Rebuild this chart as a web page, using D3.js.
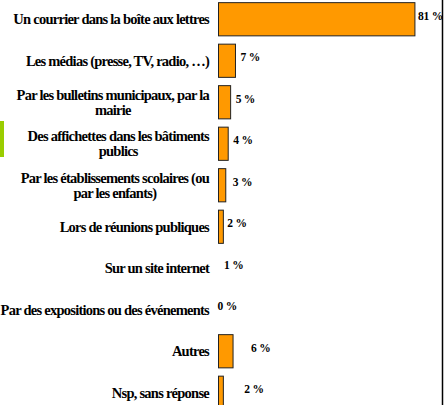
<!DOCTYPE html>
<html>
<head>
<meta charset="utf-8">
<script src="https://cdn.jsdelivr.net/npm/d3@7"></script>
<style>
  body { margin: 0; background: #fff; }
  svg { display: block; }
</style>
</head>
<body>
<svg id="chart" width="444" height="405"></svg>
<script>
// categories, one array of lines per row (wrapped as in the source)
var categories = [
  ["Un courrier dans la boîte aux lettres"],
  ["Les médias (presse, TV, radio, …)"],
  ["Par les bulletins municipaux, par la", "mairie"],
  ["Des affichettes dans les bâtiments", "publics"],
  ["Par les établissements scolaires (ou", "par les enfants)"],
  ["Lors de réunions publiques"],
  ["Sur un site internet"],
  ["Par des expositions ou des événements"],
  ["Autres"],
  ["Nsp, sans réponse"]
];
var values = [81, 7, 5, 4, 3, 2, 1, 0, 6, 2];
var valueLabels = ["81 %", "7 %", "5 %", "4 %", "3 %", "2 %", "1 %", "0 %", "6 %", "2 %"];

// layout only: how far right of the bar end each value label sits
var labelNudge = [3, 5, 5, 5, 7, 4, 3, -1, 18, 21];

var FONT = "'Liberation Serif', 'Times New Roman', Times, 'DejaVu Serif', serif";
var svg = d3.select("#chart");
var W = 444, H = 405;

var ids = d3.range(categories.length);
var y = d3.scaleBand().domain(ids).range([-2, 413]).paddingInner(0.2).paddingOuter(0.1);
var x = d3.scaleLinear().domain([0, 100]).range([218.5, 461]);

// green marker on the left edge
svg.append("rect").attr("x", 0).attr("y", 121).attr("width", 4).attr("height", 36).attr("fill", "#9acd00");

// right frame line
svg.append("line").attr("x1", W - 1.5).attr("x2", W - 1.5).attr("y1", 0).attr("y2", H)
    .attr("stroke", "#000").attr("stroke-width", 1.5);

// bars (the source draws no bar for the 1 % and 0 % rows)
svg.selectAll("rect.bar").data(ids.filter(function(i){ return values[i] > 1; }))
  .enter().append("rect").attr("class", "bar")
  .attr("x", x(0))
  .attr("y", function(i){ return y(i) + 0.5; })
  .attr("width", function(i){ return x(values[i]) - x(0); })
  .attr("height", y.bandwidth())
  .attr("fill", "#ff9900")
  .attr("stroke", "#222")
  .attr("stroke-width", 1);

// value labels
svg.selectAll("text.val").data(ids).enter().append("text").attr("class", "val")
  .attr("x", function(i){ return x(values[i]) + labelNudge[i]; })
  .attr("y", function(i){ return y(i) + y.bandwidth() / 2 + 1; })
  .attr("font-family", FONT)
  .attr("font-weight", "bold")
  .attr("font-size", "11.5px")
  .attr("letter-spacing", "-0.2px")
  .text(function(i){ return valueLabels[i]; });

// category labels: block right aligned, lines centred inside the block
var rightEdge = 209, lineH = 15;
var groups = svg.selectAll("g.cat").data(ids).enter().append("g").attr("class", "cat");
groups.each(function(i){
  var g = d3.select(this);
  var lines = categories[i];
  var cy = y(i) + y.bandwidth() / 2 + 0.5;
  var tt = g.selectAll("text").data(lines).enter().append("text")
    .attr("font-family", FONT)
    .attr("font-weight", "bold")
    .attr("font-size", "14.5px")
    .attr("letter-spacing", "-0.75px")
    .attr("text-anchor", "middle")
    .attr("y", function(d, k){ return cy + 5 + (k - (lines.length - 1) / 2) * lineH; })
    .text(function(d){ return d; });
  var maxW = 0;
  tt.each(function(){ maxW = Math.max(maxW, this.getComputedTextLength()); });
  tt.attr("x", rightEdge - maxW / 2);
});
</script>
</body>
</html>
